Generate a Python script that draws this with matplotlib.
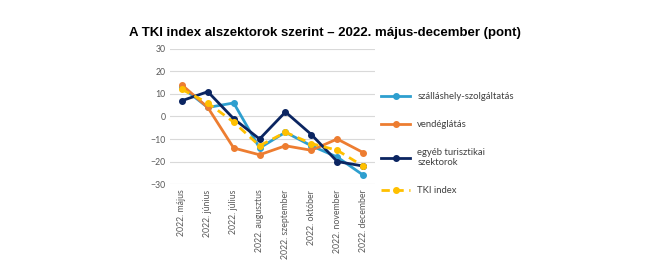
import numpy as np
import matplotlib.pyplot as plt

months = ['2022. május', '2022. június', '2022. július', '2022. augusztus',
          '2022. szeptember', '2022. október', '2022. november', '2022. december']
szallas = [13, 4, 6, -14, -7, -13, -18, -26]
vendeg = [14, 4, -14, -17, -13, -15, -10, -16]
egyeb = [7, 11, -1, -10, 2, -8, -20, -22]
tki = [12, 6, -2.5, -13, -7, -12, -15, -22]

plt.rcParams['font.family'] = ['Lato', 'DejaVu Sans']

fig = plt.figure(figsize=(6.45, 2.6), dpi=100)
ax = fig.add_axes([0.264, 0.292, 0.317, 0.52])
x = np.arange(len(months))

ax.plot(x, szallas, color='#2E9FCF', lw=2, marker='o', ms=4, label='szálláshely-szolgáltatás')
ax.plot(x, vendeg, color='#ED7D31', lw=2, marker='o', ms=4, label='vendéglátás')
ax.plot(x, egyeb, color='#0B2561', lw=2, marker='o', ms=4, label='egyéb turisztikai\nszektorok')
ax.plot(x, tki, color='#FFC000', lw=2, ls=(0, (3, 2)), marker='o', ms=4, label='TKI index')

ax.set_ylim(-30, 30)
ax.set_yticks(range(-30, 31, 10))
ax.set_xlim(-0.45, 7.45)
ax.set_xticks(x)
ax.set_xticklabels(months, rotation=90, fontsize=6.3, color='#595959')
ax.tick_params(axis='y', labelsize=6.3, colors='#595959', length=0)
ax.tick_params(axis='x', length=0, pad=4)
ax.grid(axis='y', color='#D9D9D9', lw=0.8)
ax.set_axisbelow(True)
for s in ax.spines.values():
    s.set_visible(False)

fig.text(0.504, 0.86, 'A TKI index alszektorok szerint – 2022. május-december (pont)',
         ha='center', fontsize=9.5, fontweight='bold', family='Liberation Sans')

ax.legend(loc='center left', bbox_to_anchor=(1.0, 0.3), frameon=False, fontsize=6.8,
          labelcolor='#404040', handlelength=3, labelspacing=2.0, borderaxespad=0.3)

plt.savefig('out.png', dpi=100)
